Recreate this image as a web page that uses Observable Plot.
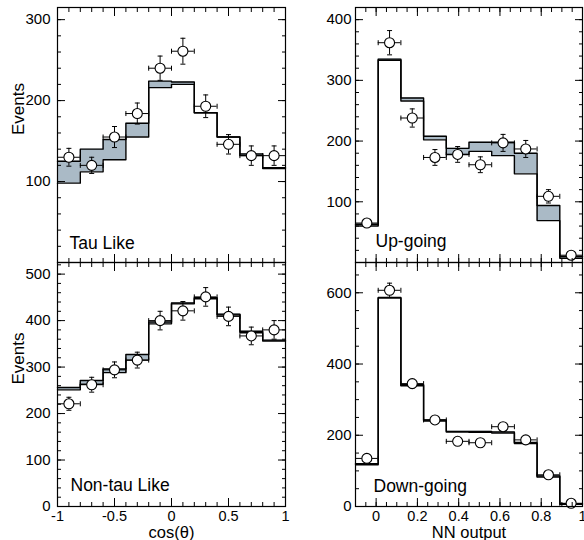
<!DOCTYPE html>
<html>
<head>
<meta charset="utf-8">
<script src="https://cdn.jsdelivr.net/npm/d3@7"></script>
<script src="https://cdn.jsdelivr.net/npm/@observablehq/plot@0.6"></script>
<style>
html, body { margin: 0; padding: 0; background: #fff; }
#chart { position: relative; width: 584px; height: 540px; overflow: hidden; font-family: "Liberation Sans", Arial, Helvetica, sans-serif; }
#chart > div { position: absolute; }
#chart svg, #chart svg text { font-family: "Liberation Sans", Arial, Helvetica, sans-serif !important; }
</style>
</head>
<body>
<div id="chart">
  <div id="tl" style="left:0;top:0"></div>
  <div id="tr" style="left:292px;top:0"></div>
  <div id="bl" style="left:0;top:258px"></div>
  <div id="br" style="left:292px;top:258px"></div>
</div>
<script>
// ---- bin edges (x categories) ----
const cosEdges = [-1, -0.8, -0.6, -0.4, -0.2, 0, 0.2, 0.4, 0.6, 0.8, 1];
const nnEdges = [-0.1, 0.01, 0.12, 0.23, 0.34, 0.45, 0.56, 0.67, 0.78, 0.89, 1.0];

// ---- Tau Like ----
const tauData = [130, 120, 155, 184, 240, 261, 193, 146, 132, 132];
const tauErr = [11, 10, 13, 13, 15, 16, 14, 12, 12, 12];
const tauMcHigh = [125, 140, 152, 172, 224, 223, 185, 155, 134, 117];
const tauMcLow = [98, 112, 127, 155, 216, 220, 185, 155, 132, 116];

// ---- Up-going ----
const upData = [65, 362, 238, 173, 178, 161, 197, 187, 109, 12];
const upErr = [5, 20, 15, 13, 13, 13, 14, 14, 11, 4];
const upMcHigh = [63, 335, 271, 208, 188, 198, 198, 180, 94, 10];
const upMcLow = [60, 333, 266, 202, 178, 183, 176, 146, 69, 7];

// ---- Non-tau Like ----
const ntData = [221, 262, 294, 315, 400, 421, 451, 409, 367, 380];
const ntErr = [14, 16, 17, 17, 20, 20, 20, 20, 19, 20];
const ntMcHigh = [256, 271, 296, 327, 397, 438, 449, 414, 377, 358];
const ntMcLow = [251, 263, 288, 315, 393, 436, 447, 412, 374, 356];

// ---- Down-going ----
const dnData = [135, 607, 345, 243, 183, 179, 224, 187, 89, 9];
const dnErr = [8, 20, 12, 9, 7, 7, 10, 8, 6, 3];
const dnMcHigh = [120, 587, 342, 243, 211, 211, 209, 180, 86, 8];
const dnMcLow = [117, 585, 339, 240, 209, 208, 206, 177, 83, 6];

// ---- tick values / labels ----
const cosMajor = [-1, -0.5, 0, 0.5, 1];
const nnMajor = [0, 0.2, 0.4, 0.6, 0.8, 1];
const tauYMajor = [100, 200, 300];
const upYMajor = [100, 200, 300, 400];
const ntYMajor = [0, 100, 200, 300, 400, 500];
const dnYMajor = [0, 200, 400, 600];

const cosMinor = d3.range(-0.9, 1.0, 0.1);
const nnMinor = d3.range(-0.05, 1.0, 0.05);
const tauYMinor = d3.range(20, 315, 20);
const upYMinor = d3.range(20, 420, 20);
const ntYMinor = d3.range(20, 525, 20);
const dnYMinor = d3.range(50, 685, 50);

const FONT = '"Liberation Sans", Arial, Helvetica, sans-serif';
const BAND = "#aabac6";

const hCap = {draw(ctx, size) { const r = Math.sqrt(size / Math.PI); ctx.moveTo(-r, 0); ctx.lineTo(r, 0); }};
const vCap = {draw(ctx, size) { const r = Math.sqrt(size / Math.PI); ctx.moveTo(0, -r); ctx.lineTo(0, r); }};

function panel(cfg) {
  const {edges, data, err, hi, lo, xDomain, yDomain, xMajor, xMinor, yMajor, yMinor,
         showX, xLabel, yLabel, name, width, height, margins, yPad, nameDx, nameDy} = cfg;
  const n = data.length;
  const pts = data.map((v, i) => ({
    x: (edges[i] + edges[i + 1]) / 2, y: v, e: err[i], hw: (edges[i + 1] - edges[i]) / 2
  }));
  const steps = edges.map((x, i) => ({x, hi: hi[Math.min(i, n - 1)], lo: lo[Math.min(i, n - 1)]}));
  const capStyle = {stroke: "black", fill: "none", strokeWidth: 1, r: 2.5};
  const marks = [
    Plot.areaY(steps, {x: "x", y1: "lo", y2: "hi", curve: "step-after", fill: BAND}),
    Plot.line(steps, {x: "x", y: "hi", curve: "step-after", stroke: "black", strokeWidth: 1.4}),
    Plot.line(steps, {x: "x", y: "lo", curve: "step-after", stroke: "black", strokeWidth: 1.4}),
    Plot.ruleX(pts, {x: "x", y1: d => d.y - d.e, y2: d => d.y + d.e, stroke: "black", strokeWidth: 1}),
    Plot.ruleY(pts, {y: "y", x1: d => d.x - d.hw, x2: d => d.x + d.hw, stroke: "black", strokeWidth: 1}),
    Plot.dot(pts, {x: "x", y: d => d.y + d.e, symbol: hCap, ...capStyle}),
    Plot.dot(pts, {x: "x", y: d => d.y - d.e, symbol: hCap, ...capStyle}),
    Plot.dot(pts, {x: d => d.x - d.hw, y: "y", symbol: vCap, ...capStyle}),
    Plot.dot(pts, {x: d => d.x + d.hw, y: "y", symbol: vCap, ...capStyle}),
    Plot.dot(pts, {x: "x", y: "y", r: 5, fill: "white", stroke: "black", strokeWidth: 1.1}),
    Plot.frame({stroke: "black", strokeWidth: 1.2}),
    Plot.axisX(xMajor, {anchor: "bottom", tickSize: -8, fill: "none", label: null}),
    Plot.axisX(xMajor, {anchor: "top", tickSize: -8, fill: "none", label: null}),
    Plot.axisX(xMinor, {anchor: "bottom", tickSize: -4, fill: "none", label: null}),
    Plot.axisX(xMinor, {anchor: "top", tickSize: -4, fill: "none", label: null}),
    Plot.axisY(yMajor, {anchor: "left", tickSize: -8, fill: "none", label: null}),
    Plot.axisY(yMajor, {anchor: "right", tickSize: -8, fill: "none", label: null}),
    Plot.axisY(yMinor, {anchor: "left", tickSize: -4, fill: "none", label: null}),
    Plot.axisY(yMinor, {anchor: "right", tickSize: -4, fill: "none", label: null}),
    Plot.axisY(yMajor, {anchor: "left", tickSize: 0, tickPadding: yPad, fontSize: 15, fontFamily: FONT, tickFormat: d => String(d), label: null}),
    Plot.text([name], {text: d => d, frameAnchor: "bottom-left", dx: nameDx, dy: nameDy, textAnchor: "start", lineAnchor: "bottom", fontSize: 17.5, fontFamily: FONT})
  ];
  if (showX) {
    marks.push(Plot.axisX(xMajor, {anchor: "bottom", tickSize: 0, tickPadding: 4, fontSize: 14.5, fontFamily: FONT, tickFormat: d => String(d), label: null}));
    marks.push(Plot.text([xLabel], {text: d => d, frameAnchor: "bottom", dy: 26, fontSize: 16.5, fontFamily: FONT, lineAnchor: "middle"}));
  }
  if (yLabel) {
    marks.push(Plot.text([yLabel], {text: d => d, frameAnchor: "left", dx: -39, rotate: -90, fontSize: 17, fontFamily: FONT, lineAnchor: "middle"}));
  }
  return Plot.plot({
    width, height,
    marginLeft: margins[0], marginRight: margins[1], marginTop: margins[2], marginBottom: margins[3],
    x: {domain: xDomain, axis: null},
    y: {domain: yDomain, axis: null},
    style: {fontFamily: FONT, background: "transparent", overflow: "visible", color: "black"},
    marks
  });
}

const leftM = [57, 7], rightM = [63, 2];
const topM = [7, 2], botM = [4, 34];

document.getElementById("tl").append(panel({
  edges: cosEdges, data: tauData, err: tauErr, hi: tauMcHigh, lo: tauMcLow,
  xDomain: [-1, 1], yDomain: [0, 315], xMajor: cosMajor, xMinor: cosMinor,
  yMajor: tauYMajor, yMinor: tauYMinor, showX: false, yLabel: "Events", name: "Tau Like",
  width: 292, height: 264, margins: [...leftM, ...topM], yPad: 7, nameDx: 12, nameDy: -14
}));
document.getElementById("tr").append(panel({
  edges: nnEdges, data: upData, err: upErr, hi: upMcHigh, lo: upMcLow,
  xDomain: [-0.1, 1.0], yDomain: [0, 420], xMajor: nnMajor, xMinor: nnMinor,
  yMajor: upYMajor, yMinor: upYMinor, showX: false, yLabel: null, name: "Up-going",
  width: 292, height: 264, margins: [...rightM, ...topM], yPad: 4, nameDx: 20, nameDy: -16
}));
document.getElementById("bl").append(panel({
  edges: cosEdges, data: ntData, err: ntErr, hi: ntMcHigh, lo: ntMcLow,
  xDomain: [-1, 1], yDomain: [0, 525], xMajor: cosMajor, xMinor: cosMinor,
  yMajor: ntYMajor, yMinor: ntYMinor, showX: true, xLabel: "cos(θ)", yLabel: "Events", name: "Non-tau Like",
  width: 292, height: 282, margins: [...leftM, ...botM], yPad: 7, nameDx: 13, nameDy: -16
}));
document.getElementById("br").append(panel({
  edges: nnEdges, data: dnData, err: dnErr, hi: dnMcHigh, lo: dnMcLow,
  xDomain: [-0.1, 1.0], yDomain: [0, 685], xMajor: nnMajor, xMinor: nnMinor,
  yMajor: dnYMajor, yMinor: dnYMinor, showX: true, xLabel: "NN output", yLabel: null, name: "Down-going",
  width: 292, height: 282, margins: [...rightM, ...botM], yPad: 4, nameDx: 18, nameDy: -15
}));
</script>
</body>
</html>
